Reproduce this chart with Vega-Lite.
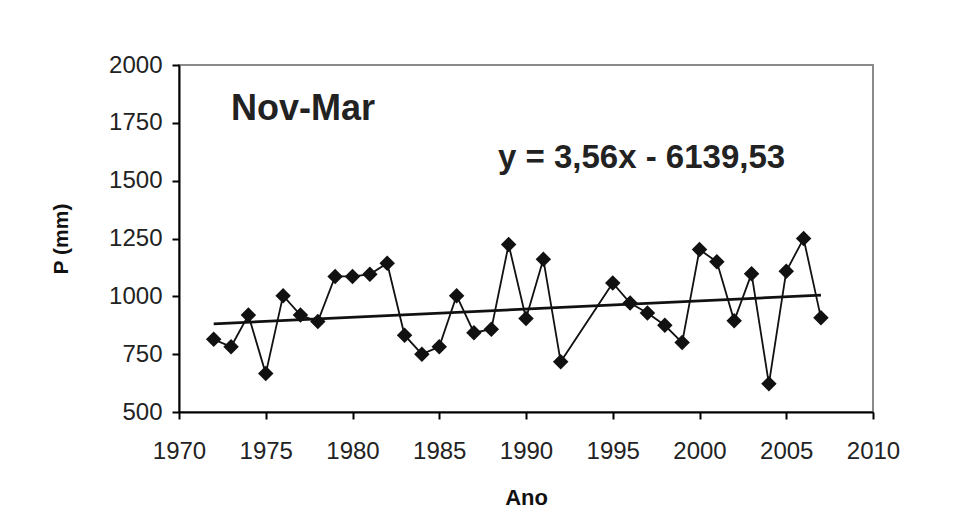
{
  "$schema": "https://vega.github.io/schema/vega-lite/v6.json",
  "autosize": {"type": "none"},
  "width": 694,
  "height": 347,
  "padding": {"left": 179, "top": 65, "right": 101, "bottom": 111},
  "background": "white",
  "config": {
    "view": {"stroke": "#8a8a8a", "strokeWidth": 2},
    "font": "Liberation Sans",
    "axis": {
      "domainColor": "black", "domainWidth": 2, "tickColor": "black", "tickWidth": 2, "tickSize": 7,
      "labelFont": "Liberation Sans", "labelFontSize": 24, "labelColor": "#222222",
      "labelFlush": false, "labelOverlap": false,
      "titleFont": "Liberation Sans", "titleFontWeight": "bold", "titleColor": "#111111",
      "grid": false
    }
  },
  "datasets": {
    "obs": [
      {"ano": 1972, "p": 814}, {"ano": 1973, "p": 782}, {"ano": 1974, "p": 919}, {"ano": 1975, "p": 666},
      {"ano": 1976, "p": 1003}, {"ano": 1977, "p": 919}, {"ano": 1978, "p": 891}, {"ano": 1979, "p": 1086},
      {"ano": 1980, "p": 1086}, {"ano": 1981, "p": 1095}, {"ano": 1982, "p": 1143}, {"ano": 1983, "p": 832},
      {"ano": 1984, "p": 750}, {"ano": 1985, "p": 782}, {"ano": 1986, "p": 1003}, {"ano": 1987, "p": 843},
      {"ano": 1988, "p": 858}, {"ano": 1989, "p": 1224}, {"ano": 1990, "p": 904}, {"ano": 1991, "p": 1160},
      {"ano": 1992, "p": 717}, {"ano": 1995, "p": 1058}, {"ano": 1996, "p": 971}, {"ano": 1997, "p": 928},
      {"ano": 1998, "p": 875}, {"ano": 1999, "p": 800}, {"ano": 2000, "p": 1202}, {"ano": 2001, "p": 1149},
      {"ano": 2002, "p": 894}, {"ano": 2003, "p": 1098}, {"ano": 2004, "p": 622}, {"ano": 2005, "p": 1108},
      {"ano": 2006, "p": 1250}, {"ano": 2007, "p": 907}
    ],
    "trend": [{"ano": 1972, "p": 881}, {"ano": 2007, "p": 1005}],
    "labels": [
      {"ano": 1977.15, "p": 1810, "txt": "Nov-Mar", "size": 36},
      {"ano": 1996.66, "p": 1600, "txt": "y = 3,56x - 6139,53", "size": 33}
    ]
  },
  "layer": [
    {
      "data": {"name": "obs"},
      "mark": {"type": "line", "color": "#111111", "strokeWidth": 1.8},
      "encoding": {
        "x": {"field": "ano", "type": "quantitative", "scale": {"domain": [1970, 2010], "nice": false, "zero": false},
              "axis": {"title": "Ano", "titleFontSize": 22, "values": [1970, 1975, 1980, 1985, 1990, 1995, 2000, 2005, 2010], "format": "d", "labelPadding": 20, "titlePadding": 24}},
        "y": {"field": "p", "type": "quantitative", "scale": {"domain": [500, 2000], "nice": false, "zero": false},
              "axis": {"title": "P (mm)", "titleFontSize": 21, "values": [500, 750, 1000, 1250, 1500, 1750, 2000], "format": "d", "labelPadding": 10, "titlePadding": 37}}
      }
    },
    {
      "data": {"name": "trend"},
      "mark": {"type": "line", "color": "#111111", "strokeWidth": 2.8},
      "encoding": {
        "x": {"field": "ano", "type": "quantitative"},
        "y": {"field": "p", "type": "quantitative"}
      }
    },
    {
      "data": {"name": "obs"},
      "mark": {"type": "point", "shape": "diamond", "filled": true, "color": "#111111", "opacity": 1, "size": 240},
      "encoding": {
        "x": {"field": "ano", "type": "quantitative"},
        "y": {"field": "p", "type": "quantitative"}
      }
    },
    {
      "data": {"name": "labels"},
      "mark": {"type": "text", "fontWeight": "bold", "color": "#222222", "font": "Liberation Sans", "align": "center", "baseline": "middle"},
      "encoding": {
        "x": {"field": "ano", "type": "quantitative"},
        "y": {"field": "p", "type": "quantitative"},
        "text": {"field": "txt"},
        "size": {"field": "size", "type": "quantitative", "scale": null}
      }
    }
  ]
}
